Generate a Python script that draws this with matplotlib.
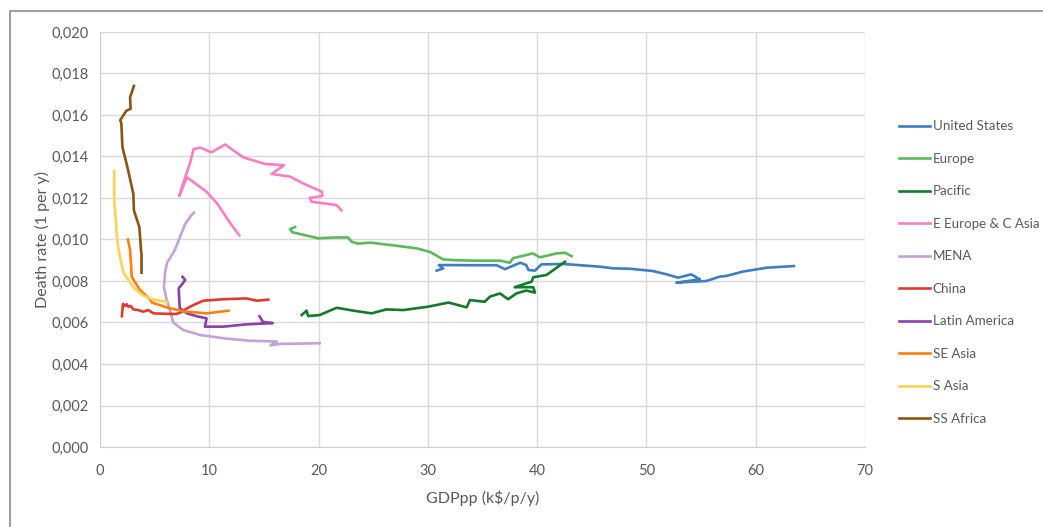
import matplotlib
matplotlib.use("Agg")
import matplotlib.pyplot as plt
from matplotlib.ticker import FuncFormatter, MultipleLocator
from matplotlib.patches import Rectangle

plt.rcParams['font.family'] = ['Lato', 'DejaVu Sans']

# GDP per person (k$/p/y) and death rate (per year) per region
us_x = [30.8, 31.4, 31.0, 33.85, 36.3, 37.05, 38.45, 39.0, 39.2, 39.8, 40.4, 42.4, 45.75, 46.95,
        48.5, 50.6, 51.85, 52.9, 54.1, 54.9, 52.75, 55.5, 56.7, 57.3, 58.8, 61.0, 63.5]
us_y = [0.0085, 0.0086, 0.00877, 0.00876, 0.00876, 0.00857, 0.00888, 0.00877, 0.00853, 0.0085,
        0.0088, 0.00882, 0.00869, 0.00861, 0.00859, 0.00848, 0.00832, 0.00816, 0.00832, 0.00808,
        0.00792, 0.008, 0.00821, 0.00824, 0.00845, 0.00864, 0.00872]

eu_x = [17.85, 17.4, 17.6, 19.95, 21.65, 22.7, 23.0, 23.6, 24.7, 27.1, 29.0, 30.2, 31.4, 32.6,
        34.5, 36.6, 37.5, 37.8, 39.0, 39.6, 40.25, 41.8, 42.55, 43.15]
eu_y = [0.0106, 0.0105, 0.01035, 0.01006, 0.0101, 0.0101, 0.0099, 0.0098, 0.00985, 0.0097,
        0.00957, 0.0094, 0.00904, 0.009, 0.00898, 0.00898, 0.00888, 0.0091, 0.00925, 0.00933,
        0.00914, 0.00933, 0.00936, 0.0092]

pac_x = [18.45, 18.9, 19.05, 20.1, 21.65, 23.2, 24.85, 26.2, 27.75, 30.0, 31.9, 33.55, 33.85,
         35.2, 35.7, 36.6, 37.35, 38.1, 39.0, 39.8, 39.65, 37.95, 39.5, 39.65, 40.85, 41.5, 42.55]
pac_y = [0.00636, 0.00657, 0.00631, 0.00636, 0.00671, 0.00657, 0.00644, 0.00663, 0.0066,
         0.00676, 0.00696, 0.00673, 0.00708, 0.007, 0.00725, 0.0074, 0.00712, 0.0074, 0.00754,
         0.00744, 0.0077, 0.0077, 0.00797, 0.00818, 0.00829, 0.00853, 0.00893]

eeca_x = [12.75, 11.9, 10.7, 9.75, 7.95, 7.25, 7.6, 8.25, 8.55, 9.15, 10.2, 11.45, 13.1, 15.1,
          16.85, 15.7, 17.4, 18.6, 20.3, 20.35, 19.2, 19.35, 21.65, 22.1]
eeca_y = [0.0102, 0.0108, 0.01175, 0.0123, 0.0130, 0.0121, 0.0127, 0.0137, 0.01435, 0.01443,
          0.0142, 0.01458, 0.01396, 0.01364, 0.01358, 0.01316, 0.01303, 0.0127, 0.0123, 0.0121,
          0.012, 0.01182, 0.01166, 0.0114]

mena_x = [8.6, 8.25, 7.8, 7.3, 6.85, 6.4, 6.15, 5.95, 5.85, 6.05, 6.4, 6.7, 7.6, 9.15, 11.3,
          13.7, 16.2, 15.6, 16.5, 20.1]
mena_y = [0.0113, 0.0111, 0.01075, 0.0101, 0.0095, 0.0091, 0.0089, 0.0084, 0.0077, 0.0072,
          0.0066, 0.0060, 0.00564, 0.0054, 0.00524, 0.00512, 0.00508, 0.0049, 0.00497, 0.0050]

china_x = [2.0, 2.1, 2.3, 2.45, 2.6, 2.8, 3.05, 3.5, 3.95, 4.4, 4.9, 6.0, 7.0, 7.5, 7.95, 8.55,
           9.45, 11.3, 13.4, 14.35, 15.4]
china_y = [0.0063, 0.0069, 0.0068, 0.00688, 0.00675, 0.0068, 0.00663, 0.0066, 0.00652, 0.0066,
           0.00644, 0.00642, 0.00641, 0.00652, 0.00668, 0.00684, 0.00705, 0.00712, 0.00716,
           0.00705, 0.0071]

latam_x = [7.55, 7.8, 7.45, 7.2, 7.25, 7.3, 7.95, 8.85, 9.75, 9.6, 11.3, 13.4, 15.8, 14.9, 14.6]
latam_y = [0.0082, 0.00805, 0.0078, 0.00765, 0.0071, 0.0067, 0.00644, 0.0063, 0.0062, 0.0058,
           0.0058, 0.00591, 0.00597, 0.00603, 0.0063]

sea_x = [2.55, 2.75, 2.85, 2.9, 3.65, 4.6, 4.75, 6.4, 7.9, 9.8, 11.75]
sea_y = [0.0100, 0.0095, 0.0087, 0.0082, 0.00757, 0.0071, 0.00696, 0.00668, 0.00652, 0.00644,
         0.00657]

sasia_x = [1.3, 1.3, 1.45, 1.55, 1.7, 1.85, 2.15, 3.05, 3.95, 4.9, 6.1]
sasia_y = [0.0133, 0.0119, 0.0109, 0.0101, 0.0095, 0.0091, 0.0084, 0.0077, 0.0073, 0.0071, 0.0070]

ssa_x = [3.1, 2.75, 2.8, 2.4, 1.85, 1.95, 2.05, 2.5, 3.05, 3.1, 3.6, 3.75, 3.8, 3.8]
ssa_y = [0.0174, 0.01685, 0.0163, 0.0162, 0.01575, 0.0156, 0.01445, 0.0135, 0.0122, 0.0114,
         0.0106, 0.0095, 0.0093, 0.0084]

series = [
    ("United States", us_x, us_y, "#3f7fbf"),
    ("Europe", eu_x, eu_y, "#5cb85c"),
    ("Pacific", pac_x, pac_y, "#15792c"),
    ("E Europe & C Asia", eeca_x, eeca_y, "#f77fc4"),
    ("MENA", mena_x, mena_y, "#c3a3d5"),
    ("China", china_x, china_y, "#df3a30"),
    ("Latin America", latam_x, latam_y, "#8c3fa6"),
    ("SE Asia", sea_x, sea_y, "#ff7f10"),
    ("S Asia", sasia_x, sasia_y, "#ffd155"),
    ("SS Africa", ssa_x, ssa_y, "#8b5415"),
]

fig = plt.figure(figsize=(10.43, 5.27), dpi=100)
ax = fig.add_axes([0.0959, 0.1518, 0.7334, 0.7875])

for name, xs, ys, col in series:
    ax.plot(xs, ys, color=col, lw=1.9, label=name, solid_joinstyle='round')

ax.set_xlim(0, 70)
ax.set_ylim(0, 0.020)
ax.xaxis.set_major_locator(MultipleLocator(10))
ax.yaxis.set_major_locator(MultipleLocator(0.002))
ax.yaxis.set_major_formatter(FuncFormatter(lambda v, p: f"{v:.3f}".replace(".", ",")))
ax.grid(True, color="#d9d9d9", lw=1.0)
ax.set_axisbelow(True)
for s in ax.spines.values():
    s.set_visible(False)
ax.spines['left'].set_visible(True)
ax.spines['bottom'].set_visible(True)
ax.spines['left'].set_color("#d0d0d0")
ax.spines['bottom'].set_color("#d0d0d0")
ax.tick_params(length=0, colors="#595959", labelsize=10.5, pad=8)
ax.tick_params(axis='x', pad=12)

ax.set_xlabel("GDPpp (k$/p/y)", color="#595959", fontsize=11.5, labelpad=9)
ax.set_ylabel("Death rate (1 per y)", color="#595959", fontsize=11.5, labelpad=1)

ax.legend(loc="upper left", bbox_to_anchor=(0.857, 0.782), bbox_transform=fig.transFigure,
          frameon=False, fontsize=9.6, handlelength=2.3, handletextpad=0.2,
          labelspacing=1.54, labelcolor="#595959", borderaxespad=0)

# chart border
fig.patches.append(Rectangle((10 / 1043, -0.05), 1.1, 1 - 10.5 / 527 + 0.05,
                             transform=fig.transFigure, fill=False,
                             edgecolor="#8c8c8c", lw=1.2))

fig.savefig("out.png", dpi=100)
